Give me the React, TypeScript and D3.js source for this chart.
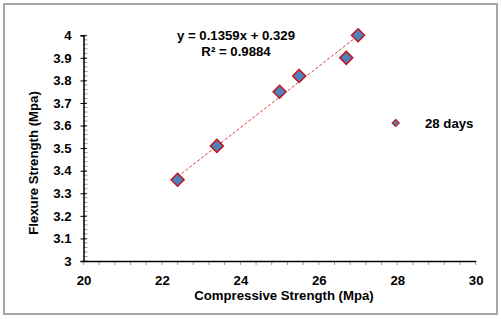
import React, { useEffect, useRef } from "react";
import * as d3 from "d3";

// compressive vs flexure strength, 28 days
const compressive = [22.4, 23.4, 25.0, 25.5, 26.7, 27.0];
const flexure = [3.36, 3.51, 3.75, 3.82, 3.9, 4.0];
const xTicks = [20, 22, 24, 26, 28, 30];
const yTicks = [3, 3.1, 3.2, 3.3, 3.4, 3.5, 3.6, 3.7, 3.8, 3.9, 4];
const slope = 0.1359;
const intercept = 0.329;
const eqLabel = "y = 0.1359x + 0.329";
const r2Label = "R² = 0.9884";
const seriesName = "28 days";

const W = 501;
const H = 319;

const App = () => {
  const svgRef = useRef<SVGSVGElement>(null);

  useEffect(() => {
    const svg = d3.select(svgRef.current);
    svg.selectAll("*").remove();

    const left = 83.5;
    const right = 475.7;
    const top = 35.3;
    const bottom = 261;

    const x = d3.scaleLinear().domain([20, 30]).range([left, right]);
    const y = d3.scaleLinear().domain([3, 4]).range([bottom, top]);
    const font = "Arial, 'Liberation Sans', sans-serif";
    const fs = 13.2;

    // outer frame
    svg.append("rect")
      .attr("x", 4).attr("y", 4).attr("width", W - 8).attr("height", H - 9)
      .attr("fill", "#fff").attr("stroke", "#a6a6a6").attr("stroke-width", 2);

    // minor ticks
    const yMinor = d3.range(3, 4.0001, 0.02);
    svg.append("g").selectAll("line").data(yMinor).enter().append("line")
      .attr("x1", left).attr("x2", left + 4)
      .attr("y1", (d) => y(d)).attr("y2", (d) => y(d))
      .attr("stroke", "#999").attr("stroke-width", 1);
    const xMinor = d3.range(20, 30.0001, 0.4);
    svg.append("g").selectAll("line").data(xMinor).enter().append("line")
      .attr("x1", (d) => x(d)).attr("x2", (d) => x(d))
      .attr("y1", bottom).attr("y2", bottom + 4)
      .attr("stroke", "#999").attr("stroke-width", 1);

    // y axis
    const yAxis = svg.append("g")
      .attr("transform", `translate(${left},0)`)
      .call(d3.axisLeft(y).tickValues(yTicks).tickSize(3).tickFormat((d) => String(d)));
    yAxis.select(".domain").attr("stroke", "#000").attr("stroke-width", 1.5);
    yAxis.selectAll(".tick line").attr("x2", -3).attr("x1", 3).attr("stroke", "#000");
    yAxis.selectAll("text")
      .attr("x", -12).attr("font-family", font).attr("font-size", fs)
      .attr("font-weight", "bold").attr("fill", "#000");

    // x axis
    const xAxis = svg.append("g")
      .attr("transform", `translate(0,${bottom})`)
      .call(d3.axisBottom(x).tickValues(xTicks).tickSize(0).tickFormat((d) => String(d)));
    xAxis.select(".domain").attr("stroke", "#000").attr("stroke-width", 1.5);
    xAxis.selectAll("text")
      .attr("y", 15).attr("font-family", font).attr("font-size", fs)
      .attr("font-weight", "bold").attr("fill", "#000");

    // trendline
    const xMin = d3.min(compressive) as number;
    const xMax = d3.max(compressive) as number;
    svg.append("line")
      .attr("x1", x(xMin)).attr("y1", y(slope * xMin + intercept))
      .attr("x2", x(xMax)).attr("y2", y(slope * xMax + intercept))
      .attr("stroke", "#d9383a").attr("stroke-width", 1)
      .attr("stroke-dasharray", "3,2");

    // points
    const diamond = (cx: number, cy: number, r: number) =>
      `M${cx},${cy - r}L${cx + r},${cy}L${cx},${cy + r}L${cx - r},${cy}Z`;
    svg.append("g").selectAll("path").data(compressive).enter().append("path")
      .attr("d", (d, i) => diamond(x(d), y(flexure[i]), 6.5))
      .attr("fill", "#4f81bd").attr("stroke", "#c0161c").attr("stroke-width", 1.5);

    // equation
    svg.append("text").attr("x", 236).attr("y", 39.5)
      .attr("text-anchor", "middle").attr("font-family", font)
      .attr("font-size", fs).attr("font-weight", "bold").text(eqLabel);
    svg.append("text").attr("x", 236).attr("y", 55.5)
      .attr("text-anchor", "middle").attr("font-family", font)
      .attr("font-size", fs).attr("font-weight", "bold").text(r2Label);

    // legend
    svg.append("path").attr("d", diamond(395.7, 123, 3.5))
      .attr("fill", "#4f81bd").attr("stroke", "#c0161c").attr("stroke-width", 1.2);
    svg.append("text").attr("x", 425).attr("y", 128)
      .attr("font-family", font).attr("font-size", fs).attr("font-weight", "bold")
      .text(seriesName);

    // axis titles
    svg.append("text").attr("x", 284).attr("y", 300)
      .attr("text-anchor", "middle").attr("font-family", font)
      .attr("font-size", fs).attr("font-weight", "bold")
      .text("Compressive Strength (Mpa)");
    svg.append("text")
      .attr("transform", `translate(37.5,163) rotate(-90)`)
      .attr("text-anchor", "middle").attr("font-family", font)
      .attr("font-size", fs).attr("font-weight", "bold")
      .text("Flexure Strength (Mpa)");
  }, []);

  return (
    <svg
      ref={svgRef}
      width={W}
      height={H}
      style={{ position: "absolute", left: 0, top: 0 }}
    ></svg>
  );
};

export default App;
